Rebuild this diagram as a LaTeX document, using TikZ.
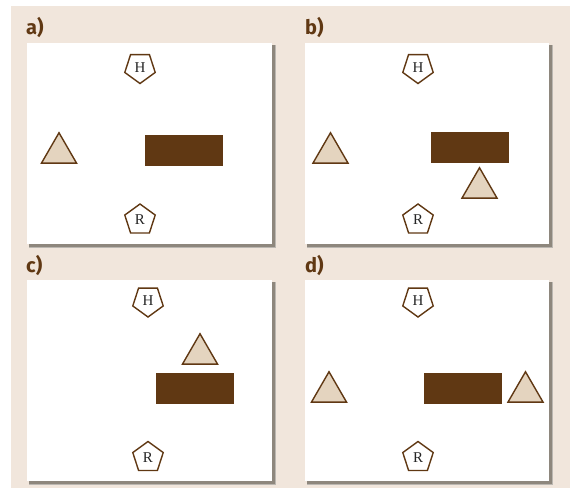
\documentclass[tikz,border=0pt]{standalone}
\usepackage{fontspec}
\setmainfont{Liberation Serif}
\newfontfamily\labelfont{Fira Sans}
\usetikzlibrary{shapes.geometric}
\definecolor{bgbeige}{HTML}{F1E6DC}
\definecolor{darkbrown}{HTML}{603813}
\definecolor{tanfill}{HTML}{E4D4BF}
\definecolor{shadowgray}{HTML}{8E877D}
\tikzset{
 pentup/.style={regular polygon, regular polygon sides=5, minimum size=32pt, inner sep=0pt, draw=darkbrown, line width=1.4pt, fill=white, font=\fontsize{15}{15}\selectfont, text=black!85},
 pentdown/.style={pentup, shape border rotate=180},
 tri/.style={regular polygon, regular polygon sides=3, minimum size=40.5pt, inner sep=0pt, draw=darkbrown, line width=1.4pt, fill=tanfill},
 block/.style={rectangle, fill=darkbrown, minimum width=78pt, minimum height=31pt, inner sep=0pt},
 plabel/.style={anchor=base west, inner sep=0pt, font=\labelfont\bfseries\fontsize{20}{20}\selectfont, text=darkbrown},
 shadowbox/.style={fill=shadowgray},
 panelbox/.style={fill=white}
}
\begin{document}
\begin{tikzpicture}[x=1pt,y=-1pt]
\useasboundingbox (0,0) rectangle (570,488);
\fill[bgbeige] (11,6) rectangle (570,488);
% panels
\foreach \xa/\ya/\xb/\yb in {27/43/272/244, 305/43/549/244, 27/280/272/481, 305/280/549/481}{
  \fill[shadowgray!60] (\xa+2,\ya+2) rectangle (\xb+4,\yb+4);
  \fill[shadowbox] (\xa+2,\ya+2) rectangle (\xb+3,\yb+3);
  \fill[panelbox] (\xa,\ya) rectangle (\xb,\yb);
}
% labels
\node[plabel] (la) at (26,34) {a)};
\node[plabel] (lb) at (305,34) {b)};
\node[plabel] (lc) at (26,272) {c)};
\node[plabel] (ld) at (305,272) {d)};
% panel a
\node[pentdown] (Ha) at (140,67.5) {H};
\node[pentup] (Ra) at (140,220) {R};
\node[tri] (Ta) at (59,153) {};
\node[block] (Ba) at (184,150.5) {};
% panel b
\node[pentdown] (Hb) at (418,67.5) {H};
\node[pentup] (Rb) at (418,220) {R};
\node[tri] (Tb1) at (330.5,153) {};
\node[block] (Bb) at (470,147.5) {};
\node[tri] (Tb2) at (479.5,188) {};
% panel c
\node[pentdown] (Hc) at (148,301) {H};
\node[pentup] (Rc) at (148,457.5) {R};
\node[tri] (Tc) at (200,354) {};
\node[block] (Bc) at (195,388.5) {};
% panel d
\node[pentdown] (Hd) at (418,301) {H};
\node[pentup] (Rd) at (418,457.5) {R};
\node[tri] (Td1) at (329,392) {};
\node[block] (Bd) at (463,388.5) {};
\node[tri] (Td2) at (525.5,392) {};
\end{tikzpicture}
\end{document}
